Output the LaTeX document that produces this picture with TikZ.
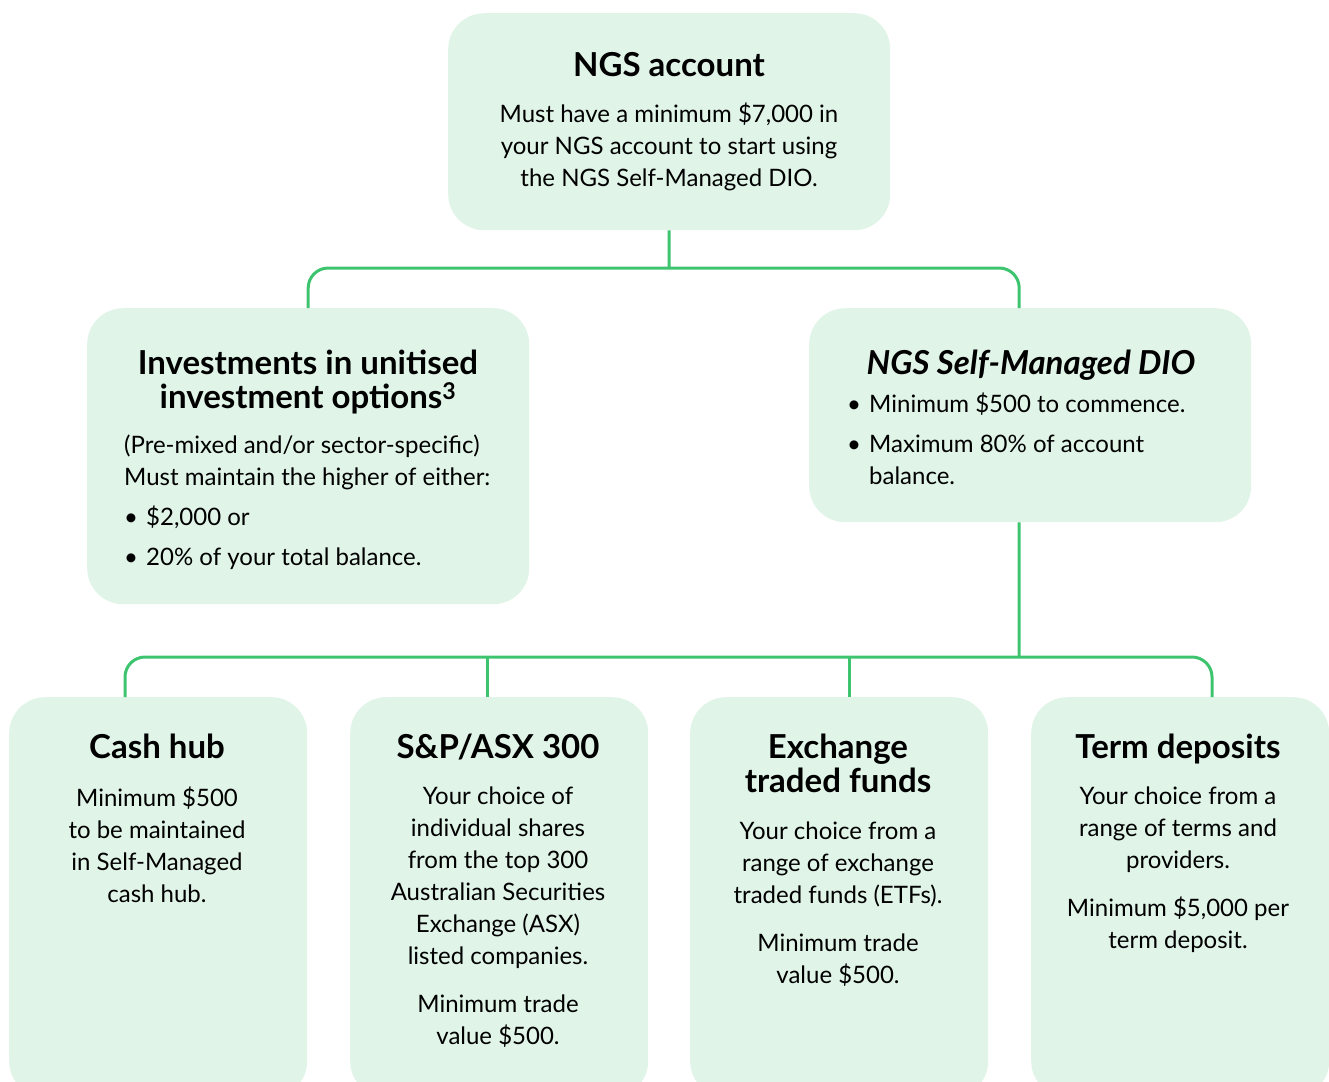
\documentclass[tikz,border=0pt]{standalone}
\usepackage{fontspec}
\setmainfont{Lato}
\usetikzlibrary{positioning}
\definecolor{mint}{HTML}{E0F4E8}
\definecolor{leaf}{HTML}{3EC46F}
\tikzstyle{card} = [rectangle, rounded corners=36pt, fill=mint, inner sep=0pt, anchor=north west]
\tikzstyle{head} = [anchor=north, inner sep=0pt, align=center, font=\fontsize{33}{34}\selectfont\bfseries]
\tikzstyle{body} = [anchor=north, inner sep=0pt, align=center, font=\fontsize{24}{32}\selectfont]
\tikzstyle{list} = [anchor=north west, inner sep=0pt, align=left, font=\fontsize{24}{32}\selectfont]
\tikzstyle{link} = [draw=leaf, line width=3pt, rounded corners=20pt]
\newcommand{\bul}[1]{\makebox[22pt][l]{\textbullet}#1}

\begin{document}
\begin{tikzpicture}[x=1pt,y=-1pt]
                \useasboundingbox (0,0) rectangle (1329,1081);
                \clip (0,0) rectangle (1329,1081);
                % boxes
                \node (ngs) [card, minimum width=442pt, minimum height=217pt] at (448,13) {};
                \node (inv) [card, minimum width=442pt, minimum height=296pt] at (87,308) {};
                \node (dio) [card, minimum width=442pt, minimum height=214pt] at (809,308) {};
                \node (cash) [card, minimum width=298pt, minimum height=400pt] at (9,697) {};
                \node (asx) [card, minimum width=298pt, minimum height=400pt] at (350,697) {};
                \node (etf) [card, minimum width=298pt, minimum height=400pt] at (690,697) {};
                \node (term) [card, minimum width=298pt, minimum height=400pt] at (1031,697) {};
                % texts
                \node (ngshead) [head] at (669,52) {NGS account};
                \node (ngsbody) [body] at (669,103) {Must have a minimum \$7,000 in\\your NGS account to start using\\the NGS Self-Managed DIO.};
                \node (invhead) [head] at (308,350) {Investments in unitised\\investment options\textsuperscript{3}};
                \node (invbody) [list] at (124,435) {(Pre-mixed and/or sector-specific)\\Must maintain the higher of either:\\[8pt]\bul{\$2,000 or}\\[8pt]\bul{20\% of your total balance.}};
                \node (diohead) [head, font=\fontsize{33}{34}\selectfont\bfseries\itshape] at (1031,350) {NGS Self-Managed DIO};
                \node (diobody) [list] at (847,393) {\bul{Minimum \$500 to commence.}\\[8pt]\bul{Maximum 80\% of account}\\\hspace*{22pt}balance.};
                \node (cashhead) [head] at (157,734) {Cash hub};
                \node (cashbody) [body] at (157,787) {Minimum \$500\\to be maintained\\in Self-Managed\\cash hub.};
                \node (asxhead) [head] at (498,734) {S\&P/ASX 300};
                \node (asxbody) [body] at (498,787) {Your choice of\\individual shares\\from the top 300\\Australian Securities\\Exchange (ASX)\\listed companies.\\[16pt]Minimum trade\\value \$500.};
                \node (etfhead) [head] at (838,734) {Exchange\\traded funds};
                \node (etfbody) [body] at (838,822) {Your choice from a\\range of exchange\\traded funds (ETFs).\\[16pt]Minimum trade\\value \$500.};
                \node (termhead) [head] at (1178,734) {Term deposits};
                \node (termbody) [body] at (1178,787) {Your choice from a\\range of terms and\\providers.\\[16pt]Minimum \$5,000 per\\term deposit.};
                % connectors
                \coordinate (bus1) at (669,268);
                \coordinate (bus2) at (1019,657);
                \coordinate (diotop) at ([xshift=-11pt]dio.north);
                \coordinate (diobot) at ([xshift=-11pt]dio.south);
                \coordinate (cashtop) at ([xshift=116pt]cash.north west);
                \coordinate (asxtop) at ([xshift=137pt]asx.north west);
                \coordinate (etftop) at ([xshift=159pt]etf.north west);
                \coordinate (termtop) at ([xshift=181pt]term.north west);
                \draw [link] (ngs.south) -- (bus1);
                \draw [link] (inv.north) |- (bus1) -| (diotop);
                \draw [link] (diobot) -- (bus2);
                \draw [link] (cashtop) |- (bus2) -| (termtop);
                \draw [link] (asxtop |- bus2) -- (asxtop);
                \draw [link] (etftop |- bus2) -- (etftop);
            \end{tikzpicture}
\end{document}
